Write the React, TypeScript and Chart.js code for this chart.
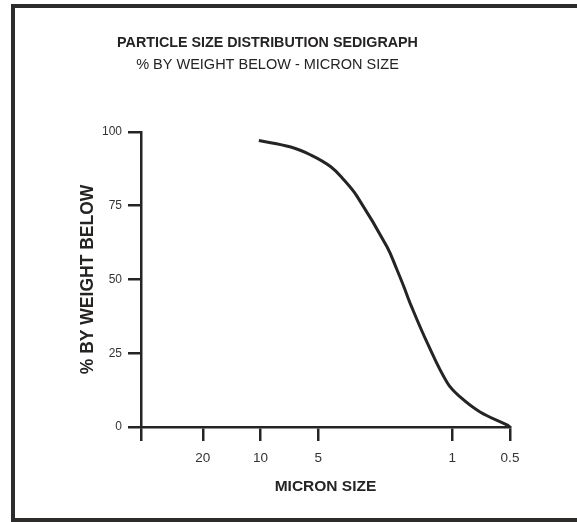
import React, { useEffect, useRef } from "react";
import { Chart, registerables } from "chart.js";

Chart.register(...registerables);

// Data (micron size vs % by weight below)
const micronSize = [10.2, 6.95, 5.47, 4.3, 3.67, 3.13, 2.19, 1.94, 1.79, 1.66, 1.35, 1.06, 0.91, 0.716, 0.519, 0.5];
const percentBelow = [97.1, 94.9, 92.2, 88.2, 83.7, 78.1, 61.1, 53.2, 47.6, 42.0, 28.5, 14.9, 10.2, 5.1, 0.7, 0];

const xTickValues = [20, 10, 5, 1, 0.5];
const xAxisMax = 42;
const xAxisMin = 0.5;
const yTickValues = [0, 25, 50, 75, 100];

const titleText = "PARTICLE SIZE DISTRIBUTION SEDIGRAPH";
const subtitleText = "% BY WEIGHT BELOW - MICRON SIZE";
const xTitle = "MICRON SIZE";
const yTitle = "% BY WEIGHT BELOW";

const INK = "#262422";
const FONT = "'Liberation Sans', Arial, Helvetica, sans-serif";

export default function App() {
  const canvasRef = useRef<HTMLCanvasElement | null>(null);

  useEffect(() => {
    const canvas = canvasRef.current;
    if (!canvas) return;
    const points = micronSize.map((x, i) => ({ x, y: percentBelow[i] }));

    const chart = new Chart(canvas, {
      type: "line",
      data: {
        datasets: [
          {
            data: points,
            borderColor: INK,
            borderWidth: 3,
            pointRadius: 0,
            tension: 0.4,
            fill: false,
            clip: false as any,
          },
        ],
      },
      options: {
        animation: false,
        responsive: false,
        maintainAspectRatio: false,
        layout: { padding: { top: 20, left: 25, right: 67, bottom: 0 } },
        plugins: {
          legend: { display: false },
          tooltip: { enabled: false },
          title: {
            display: true,
            text: titleText,
            color: INK,
            font: { family: FONT, size: 14.3, weight: "bold" },
            padding: { top: 14.4, bottom: 2 },
          },
          subtitle: {
            display: true,
            text: subtitleText,
            color: INK,
            font: { family: FONT, size: 14.5, weight: "normal" },
            padding: { top: 2.7, bottom: 58.3 },
          },
        },
        scales: {
          x: {
            type: "logarithmic",
            reverse: true,
            min: xAxisMin,
            max: xAxisMax,
            afterBuildTicks: (scale: any) => {
              scale.ticks = [xAxisMax, ...xTickValues].map((v) => ({ value: v }));
            },
            afterFit: (scale: any) => {
              scale.height = 95;
            },
            ticks: {
              autoSkip: false,
              maxRotation: 0,
              color: "#333",
              font: { family: FONT, size: 13.5 },
              padding: 9,
              callback: (value: any) => (xTickValues.includes(Number(value)) ? String(value) : ""),
            },
            grid: {
              drawOnChartArea: false,
              drawTicks: true,
              tickLength: 14,
              color: INK,
              lineWidth: 2.5,
            },
            border: { display: true, color: INK, width: 2.5 },
            title: {
              display: true,
              text: xTitle,
              color: INK,
              font: { family: FONT, size: 15.5, weight: "bold" },
              padding: { top: 0, bottom: 25.7 },
            },
          },
          y: {
            type: "linear",
            min: 0,
            max: 100,
            afterBuildTicks: (scale: any) => {
              scale.ticks = yTickValues.map((v) => ({ value: v }));
            },
            afterFit: (scale: any) => {
              scale.width = 116;
            },
            ticks: {
              color: "#333",
              font: { family: FONT, size: 12 },
              padding: 6,
            },
            grid: {
              drawOnChartArea: false,
              drawTicks: true,
              tickLength: 13,
              color: INK,
              lineWidth: 2.5,
            },
            border: { display: true, color: INK, width: 2.5 },
            title: {
              display: true,
              text: yTitle,
              color: INK,
              font: { family: FONT, size: 17.5, weight: "bold" },
              padding: { top: 52.5, bottom: 0 },
            },
          },
        },
      } as any,
    });
    return () => chart.destroy();
  }, []);

  return (
    <div style={{ position: "absolute", left: 0, top: 0, width: 577, height: 522, background: "#fff", overflow: "hidden" }}>
      <canvas ref={canvasRef} width={577} height={522} style={{ display: "block", width: 577, height: 522 }} />
      <div
        style={{
          position: "absolute",
          left: 11,
          top: 4,
          right: -10,
          bottom: 0,
          borderTop: "4px solid #2e2c2a",
          borderLeft: "4px solid #2e2c2a",
          borderBottom: "4px solid #2e2c2a",
          pointerEvents: "none",
        }}
      />
    </div>
  );
}
